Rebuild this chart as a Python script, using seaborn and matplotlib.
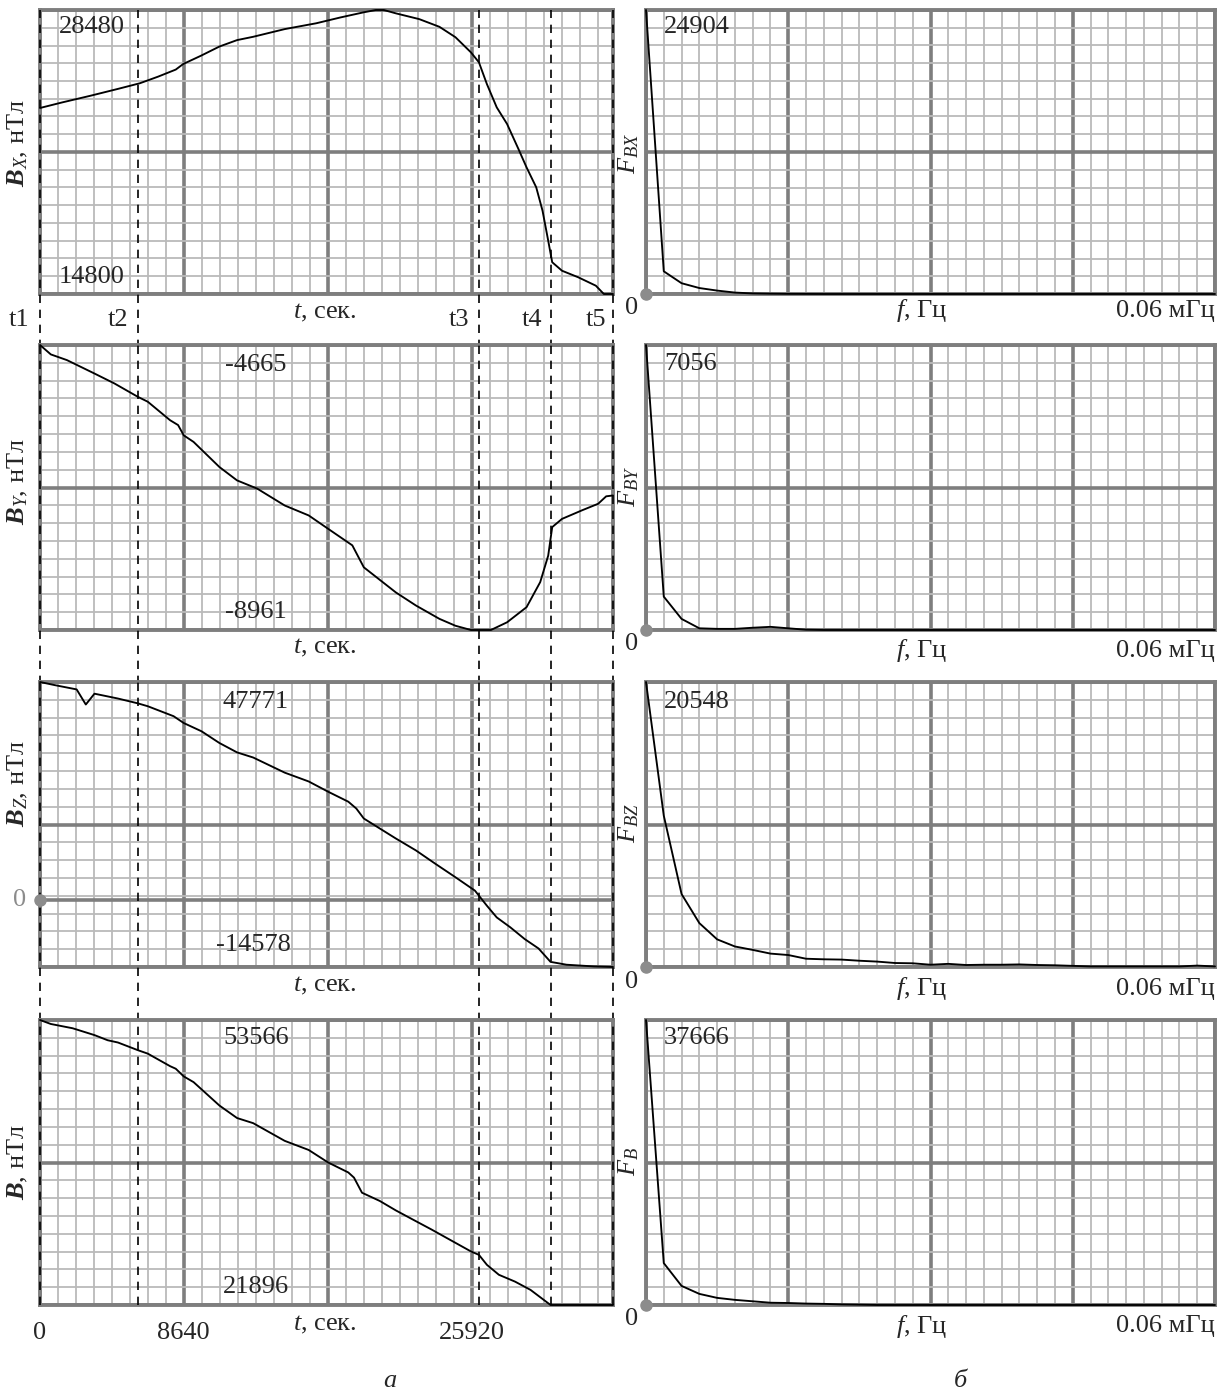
import matplotlib
matplotlib.use('Agg')
import matplotlib.pyplot as plt
import matplotlib.transforms as mtransforms
import seaborn as sns
import numpy as np

# Zeitreihen (t in s, B in nT)
t_bx = [0, 1340, 3030, 4680, 5990, 7090, 8150, 8600, 9670, 10770, 11830, 12800, 14690, 16580,
        18030, 19440, 20160, 20640, 21360, 22770, 23980, 24940, 25870, 26350, 26830, 27420,
        28040, 28720, 29210, 29790, 30170, 30510, 30750, 31340, 32300, 33370, 33850, 34400]
bx = [23760, 24030, 24350, 24680, 24950, 25270, 25610, 25880, 26280, 26720, 27030, 27190, 27560,
      27840, 28120, 28370, 28480, 28480, 28320, 28040, 27670, 27170, 26440, 25960, 24910, 23790,
      22990, 21790, 20900, 19940, 18810, 17370, 16330, 15920, 15610, 15200, 14800, 14800]

t_by = [0, 650, 1620, 3270, 4470, 5880, 6470, 7810, 8290, 8630, 9220, 10770, 11830, 13040, 14690,
        16130, 17300, 18750, 19440, 21360, 22570, 23980, 24940, 25870, 27070, 28040, 29210, 30030,
        30510, 30750, 31340, 32540, 33510, 33990, 34400]
by = [-4665, -4807, -4893, -5095, -5245, -5447, -5520, -5799, -5872, -6027, -6126, -6504, -6706,
      -6830, -7084, -7234, -7436, -7685, -8016, -8394, -8592, -8793, -8897, -8961, -8961, -8845,
      -8617, -8239, -7840, -7410, -7286, -7157, -7058, -6946, -6933]

t_bz = [0, 890, 2200, 2750, 3270, 4680, 5880, 6470, 8020, 8630, 9700, 10770, 11830, 12800, 14690,
        16130, 17300, 18510, 18990, 19440, 20400, 21360, 22570, 23740, 24940, 26110, 26830, 27420,
        28240, 29100, 29930, 30650, 31610, 33260, 34400]
bz = [47771, 47085, 46150, 42843, 45213, 44153, 43094, 42470, 40289, 38792, 36984, 34428, 32371,
      31249, 27944, 26012, 23767, 21584, 20088, 17906, 15724, 13541, 10923, 7992, 5062, 2132,
      -1173, -3729, -5911, -8468, -10525, -13456, -14079, -14453, -14578]

t_b = [0, 650, 1960, 3270, 4060, 4680, 5880, 6470, 7810, 8150, 8630, 9220, 10770, 11830, 12800,
       14690, 16130, 17300, 18510, 18850, 19330, 20400, 21360, 22570, 23500, 24700, 25870, 26350,
       26830, 27550, 28520, 29450, 30650, 34400]
b = [53566, 53123, 52648, 51888, 51318, 51065, 50209, 49829, 48436, 48151, 47296, 46662, 44065,
     42672, 42102, 40138, 39124, 37731, 36623, 36052, 34374, 33456, 32410, 31207, 30289, 29053,
     27850, 27470, 26361, 25253, 24493, 23574, 21896, 21896]

# Grenzwerte der Achsen (Beschriftung im Bild)
b_lims = [(14800, 28480), (-8961, -4665), (-14578, 47771), (21896, 53566)]
t_max = 34400
t_marks = [0, 5880, 26340, 30660, 34400]
t_names = ['t1', 't2', 't3', 't4', 't5']

# Spektren, f in mHz
freq = [0, 0.001875, 0.00375, 0.005625, 0.0075, 0.009375, 0.01125, 0.013125, 0.015, 0.016875,
        0.01875, 0.020625, 0.0225, 0.024375, 0.02625, 0.028125, 0.03, 0.031875, 0.03375, 0.035625,
        0.0375, 0.039375, 0.04125, 0.043125, 0.045, 0.046875, 0.04875, 0.050625, 0.0525, 0.054375,
        0.05625, 0.058125, 0.06]
fbx = [24904, 1990, 946, 523, 299, 125, 50, 25, 10, 5, 0, 0, 0, 0, 0, 0, 0, 0, 0, 0, 0, 0, 0, 0,
       0, 0, 0, 0, 0, 0, 0, 0, 0]
fby = [7056, 826, 275, 42, 28, 28, 56, 78, 42, 7, 0, 0, 0, 0, 0, 0, 0, 0, 0, 0, 0, 0, 0, 0,
       0, 0, 0, 0, 0, 0, 0, 0, 0]
fbz = [20548, 10911, 5260, 3164, 1993, 1479, 1233, 966, 863, 596, 555, 534, 452, 390, 288, 267,
       164, 226, 144, 164, 164, 185, 144, 123, 82, 41, 41, 41, 41, 41, 41, 100, 41]
fb = [37666, 5537, 2524, 1469, 942, 678, 490, 301, 264, 188, 151, 75, 38, 0, 0, 0, 0, 0, 0, 0,
      0, 0, 0, 0, 0, 0, 0, 0, 0, 0, 0, 0, 0]

sns.set_style('white')
plt.rcParams['font.family'] = ['Liberation Serif', 'DejaVu Serif']
plt.rcParams['mathtext.fontset'] = 'custom'
plt.rcParams['mathtext.rm'] = 'Liberation Serif'
plt.rcParams['mathtext.it'] = 'Liberation Serif:italic'
plt.rcParams['mathtext.bf'] = 'Liberation Serif:bold'
plt.rcParams['mathtext.bfit'] = 'Liberation Serif:bold:italic'

W, H = 1223, 1396
fig = plt.figure(figsize=(W / 100, H / 100), dpi=100)

minor_c = '#bababa'
major_c = '#7e7e7e'
dot_c = '#8c8c8c'
fs = 19

rows_px = [(10, 294), (345, 630), (682, 967), (1020, 1305)]
left_px = (40, 613)
right_px = (646, 1215)


def make_ax(xp, yp):
    return fig.add_axes([xp[0] / W, 1 - yp[1] / H, (xp[1] - xp[0]) / W, (yp[1] - yp[0]) / H])


def millimeter_grid(ax, xmaj, xmin, ylo, yhi):
    ax.set_ylim(ylo, yhi)
    ax.set_xticks(xmaj)
    ax.set_xticks(xmin, minor=True)
    ax.set_yticks(np.linspace(ylo, yhi, 3))
    ax.set_yticks(np.linspace(ylo, yhi, 17), minor=True)
    ax.grid(which='minor', color=minor_c, lw=1.3)
    ax.grid(which='major', color=major_c, lw=2.6)
    ax.set_axisbelow(True)
    ax.tick_params(which='both', length=0, labelbottom=False, labelleft=False)
    ax.set_xlabel('')
    ax.set_ylabel('')
    for s in ax.spines.values():
        s.set_color(major_c)
        s.set_linewidth(2.8)


def put(x, y, s, **kw):
    kw.setdefault('ha', 'center')
    kw.setdefault('va', 'center')
    kw.setdefault('fontsize', fs)
    fig.text(x / W, 1 - y / H, s, **kw)


# linke Spalte: Zeitverlaeufe
series_t = [(t_bx, bx), (t_by, by), (t_bz, bz), (t_b, b)]
left_axes = []
for r, (tt, vv) in enumerate(series_t):
    ax = make_ax(left_px, rows_px[r])
    sns.lineplot(x=tt, y=vv, ax=ax, color='black', linewidth=1.35)
    ax.set_xlim(0, t_max)
    millimeter_grid(ax, np.arange(0, t_max, 8640), np.arange(0, t_max, 1080), *b_lims[r])
    for ln in ax.lines:
        ln.set_clip_on(False)
        ln.set_zorder(4)
    # gestrichelte Zeitmarken
    for tm in t_marks:
        ax.axvline(tm, ymin=-0.19 if r < 3 else 0, ymax=1, color='black', lw=1.2,
                   ls=(0, (5, 4)), clip_on=False, zorder=5)
    left_axes.append(ax)

# Nulllinie bei Bz
axz = left_axes[2]
axz.axhline(0, color=major_c, lw=2.6, zorder=1)
axz.plot([0], [0], 'o', color=dot_c, ms=8, clip_on=False, zorder=6)
zero_tr = mtransforms.blended_transform_factory(fig.transFigure, axz.transData)
axz.text(20 / W, 0, '0', transform=zero_tr, color=dot_c, fontsize=fs, ha='center', va='center')

# rechte Spalte: Spektren
series_f = [fbx, fby, fbz, fb]
for r, vv in enumerate(series_f):
    ax = make_ax(right_px, rows_px[r])
    sns.lineplot(x=freq, y=vv, ax=ax, color='black', linewidth=1.35)
    ax.set_xlim(0, 0.06)
    millimeter_grid(ax, np.linspace(0, 0.06, 5), np.linspace(0, 0.06, 33), 0, max(vv))
    for ln in ax.lines:
        ln.set_clip_on(False)
        ln.set_zorder(4)
    ax.plot([0], [0], 'o', color=dot_c, ms=8, clip_on=False, zorder=6)

# Werte an den Kurven
put(59, 27, '28480', ha='left')
put(59, 277, '14800', ha='left')
put(256, 365, '-4665')
put(256, 612, '-8961')
put(256, 702, '47771')
put(253, 945, '-14578')
put(256, 1038, '53566')
put(256, 1287, '21896')
put(664, 27, '24904', ha='left')
put(664, 364, '7056', ha='left')
put(664, 702, '20548', ha='left')
put(664, 1038, '37666', ha='left')

# Achsenbeschriftungen
left_names = [r'$\mathbfit{B}_{\mathit{X}}$, нТл', r'$\mathbfit{B}_{\mathit{Y}}$, нТл',
              r'$\mathbfit{B}_{\mathit{Z}}$, нТл', r'$\mathbfit{B}$, нТл']
left_y = [143, 482, 784, 1162]
right_names = [r'$F_{BX}$', r'$F_{BY}$', r'$F_{BZ}$', r'$F_{B}$']
right_y = [153, 486, 823, 1161]
for r in range(4):
    put(18, left_y[r], left_names[r], rotation=90)
    put(629, right_y[r], right_names[r], rotation=90)

t_label_y = [313, 648, 986, 1325]
for r in range(4):
    put(325, t_label_y[r], r'$t$, сек.')

for tm, name, xp in zip(t_marks, t_names, [19, 118, 459, 532, 596]):
    put(xp, 320, name)

put(40, 1333, '0')
put(183, 1333, '8640')
put(472, 1333, '25920')

zero_y = [308, 644, 982, 1319]
f_y = [311, 651, 989, 1326]
for r in range(4):
    put(632, zero_y[r], '0')
    put(922, f_y[r], r'$f$, Гц')
    put(1215, f_y[r], '0.06 мГц', ha='right')

put(390, 1381, 'а', style='italic')
put(960, 1381, 'б', style='italic')

fig.savefig('out.png', dpi=100, facecolor='white')
